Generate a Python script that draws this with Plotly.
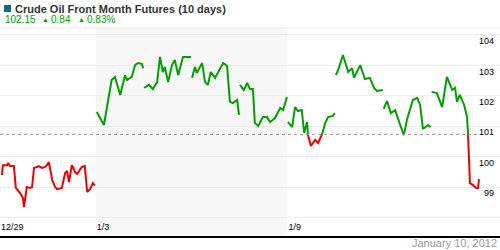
import plotly.graph_objects as go

# ---- data (x = trading-day offset from 12/29 open, y = price) ----
ref_price = 100.73  # dashed reference line
tick_days = [0, 2, 6]
tick_labels = ["12/29", "1/3", "1/9"]
y_ticks = [98, 99, 100, 101, 102, 103, 104]
y_labels = ["", "99", "100", "101", "102", "103", "104"]

seg0_x = [0.04, 0.06, 0.15, 0.17, 0.21, 0.29, 0.33, 0.42, 0.48, 0.50, 0.56, 0.63, 0.67, 0.71, 0.77, 0.81, 0.88, 0.94, 0.98, 1.02, 1.09, 1.15, 1.19, 1.29, 1.36, 1.40, 1.44, 1.50, 1.57, 1.61, 1.71, 1.77, 1.82, 1.88, 1.94, 1.98]
seg0_y = [99.39, 99.72, 99.72, 99.79, 99.69, 99.69, 98.97, 98.80, 98.64, 98.34, 99.00, 98.97, 99.00, 99.63, 99.66, 99.69, 99.63, 99.66, 99.72, 99.82, 99.23, 99.00, 98.93, 98.97, 99.46, 99.53, 99.16, 99.72, 99.49, 99.43, 99.66, 99.69, 98.84, 98.93, 99.13, 99.05]

seg1_x = [2.02, 2.17, 2.33, 2.40, 2.51, 2.61, 2.65, 2.75, 2.82, 2.88, 2.96, 2.99]
seg1_y = [101.47, 101.04, 102.52, 102.62, 102.03, 102.68, 102.52, 102.62, 103.01, 103.08, 103.05, 102.91]

seg2_x = [3.01, 3.11, 3.19, 3.28, 3.34, 3.40, 3.44, 3.51, 3.59, 3.65, 3.72, 3.82, 3.99]
seg2_y = [102.26, 102.36, 102.22, 102.45, 103.28, 102.78, 102.95, 102.45, 103.01, 103.18, 102.68, 103.28, 103.28]

seg3_x = [4.01, 4.07, 4.11, 4.22, 4.28, 4.34, 4.40, 4.49, 4.66, 4.74, 4.80, 4.86, 4.95, 4.99]
seg3_y = [102.59, 102.95, 102.75, 103.08, 102.45, 102.36, 102.78, 102.59, 103.08, 102.98, 101.80, 101.76, 101.86, 101.37]

seg4_x = [5.01, 5.09, 5.16, 5.22, 5.28, 5.32, 5.39, 5.49, 5.57, 5.64, 5.74, 5.85, 5.91, 5.99]
seg4_y = [102.36, 102.19, 102.42, 102.22, 102.22, 101.11, 101.01, 101.30, 101.30, 101.14, 101.27, 101.60, 101.53, 101.96]

seg5_x = [6.01, 6.10, 6.16, 6.22, 6.30, 6.35, 6.41, 6.43, 6.49, 6.58, 6.64, 6.72, 6.79, 6.85, 6.95, 6.99]
seg5_y = [101.14, 100.97, 101.63, 101.50, 101.53, 100.78, 101.14, 100.71, 100.35, 100.55, 100.45, 100.71, 101.11, 101.30, 101.34, 101.43]

seg6_x = [7.01, 7.06, 7.16, 7.27, 7.35, 7.39, 7.52, 7.62, 7.72, 7.81, 7.87, 7.99]
seg6_y = [102.68, 102.85, 103.34, 102.78, 102.91, 102.59, 103.01, 102.55, 102.59, 102.26, 102.16, 102.19]

seg7_x = [8.01, 8.08, 8.16, 8.25, 8.31, 8.43, 8.50, 8.62, 8.71, 8.77, 8.83, 8.94, 8.99]
seg7_y = [101.57, 101.83, 101.43, 101.53, 101.24, 100.71, 101.24, 101.86, 101.93, 101.70, 100.91, 101.04, 100.97]

seg8_x = [9.01, 9.12, 9.23, 9.33, 9.44, 9.50, 9.54, 9.60, 9.69, 9.75, 9.77, 9.81, 9.87, 9.94, 9.98, 10.0]
seg8_y = [102.13, 102.09, 101.63, 102.62, 102.19, 102.26, 101.80, 102.03, 101.70, 101.30, 100.78, 99.13, 99.07, 98.97, 98.97, 99.26]

segments = [(seg0_x, seg0_y), (seg1_x, seg1_y), (seg2_x, seg2_y), (seg3_x, seg3_y),
            (seg4_x, seg4_y), (seg5_x, seg5_y), (seg6_x, seg6_y), (seg7_x, seg7_y),
            (seg8_x, seg8_y)]

GREEN = "#00a000"
RED = "#f00000"

# split each session into runs above/below the reference line
gx, gy, rx, ry = [], [], [], []
for xs, ys in segments:
    runs = []
    cur_x, cur_y = [xs[0]], [ys[0]]
    cur_up = ys[0] >= ref_price
    for i in range(1, len(xs)):
        up = ys[i] >= ref_price
        if up != cur_up:
            t = (ref_price - ys[i - 1]) / (ys[i] - ys[i - 1])
            cx = xs[i - 1] + t * (xs[i] - xs[i - 1])
            cur_x.append(cx); cur_y.append(ref_price)
            runs.append((cur_up, cur_x, cur_y))
            cur_x, cur_y = [cx], [ref_price]
            cur_up = up
        cur_x.append(xs[i]); cur_y.append(ys[i])
    runs.append((cur_up, cur_x, cur_y))
    for up, rxs, rys in runs:
        if up:
            gx += rxs + [None]; gy += rys + [None]
        else:
            rx += rxs + [None]; ry += rys + [None]

fig = go.Figure()
fig.add_trace(go.Scatter(x=gx, y=gy, mode="lines", line=dict(color=GREEN, width=2),
                         hoverinfo="skip", showlegend=False))
fig.add_trace(go.Scatter(x=rx, y=ry, mode="lines", line=dict(color=RED, width=2),
                         hoverinfo="skip", showlegend=False))

H_PLOT = 208.0

def py(pix):
    return (236.0 - pix) / H_PLOT

shapes = [
    dict(type="rect", xref="x", yref="paper", x0=tick_days[1], x1=tick_days[2], y0=0, y1=1,
         fillcolor="#f7f7f7", line=dict(width=0), layer="below"),
    dict(type="line", xref="paper", yref="paper", x0=0, x1=1, y0=1, y1=1,
         line=dict(color="#e8e8e8", width=1)),
    dict(type="line", xref="x", yref="y", x0=0, x1=10, y0=ref_price, y1=ref_price,
         line=dict(color="#999999", width=1, dash="3px,3px")),
    dict(type="rect", xref="paper", yref="paper", x0=4 / 500, x1=11 / 500, y0=py(12), y1=py(5),
         fillcolor="#17657f", line=dict(width=0)),
]

ann = [
    dict(text="<b>Crude Oil Front Month Futures (10 days)</b>", x=14 / 500, y=py(9.5),
         font=dict(size=11, color="#333333")),
    dict(text="102.15", x=4 / 500, y=py(20), font=dict(size=10, color=GREEN)),
    dict(text="▲", x=41 / 500, y=py(19.5), font=dict(size=7, color=GREEN)),
    dict(text="0.84", x=50 / 500, y=py(20), font=dict(size=10, color=GREEN)),
    dict(text="▲", x=77 / 500, y=py(19.5), font=dict(size=7, color=GREEN)),
    dict(text="0.83%", x=86 / 500, y=py(20), font=dict(size=10, color=GREEN)),
]
annotations = []
for a in ann:
    a.update(xref="paper", yref="paper", xanchor="left", yanchor="middle", showarrow=False,
             borderpad=0)
    annotations.append(a)
annotations.append(dict(text="January 10, 2012", xref="paper", yref="paper", x=498 / 500,
                        y=py(243), xanchor="right", yanchor="middle", showarrow=False,
                        font=dict(size=11, color="#999999"), borderpad=0))

fig.update_layout(
    width=500, height=250,
    margin=dict(l=0, r=0, t=28, b=14),
    paper_bgcolor="white", plot_bgcolor="white",
    font=dict(family="Liberation Sans, Arial, sans-serif"),
    shapes=shapes, annotations=annotations,
    xaxis=dict(range=[0, 500 / 47.9], tickvals=tick_days, ticktext=tick_labels,
               ticklabelposition="inside right", showgrid=False, zeroline=False,
               showline=True, linecolor="black", linewidth=2, ticks="",
               tickfont=dict(size=9, color="black"), fixedrange=True),
    yaxis=dict(side="right", range=[97.39, 104.23], tickvals=y_ticks, ticktext=y_labels,
               ticklabelposition="inside", showgrid=True, gridcolor="#ececec", gridwidth=1,
               zeroline=False, showline=False, ticks="", ticklabelshift=6,
               ticklabelstandoff=3,
               tickfont=dict(size=9, color="black"), fixedrange=True),
)

fig.write_html("out.html", config={"displayModeBar": False})
